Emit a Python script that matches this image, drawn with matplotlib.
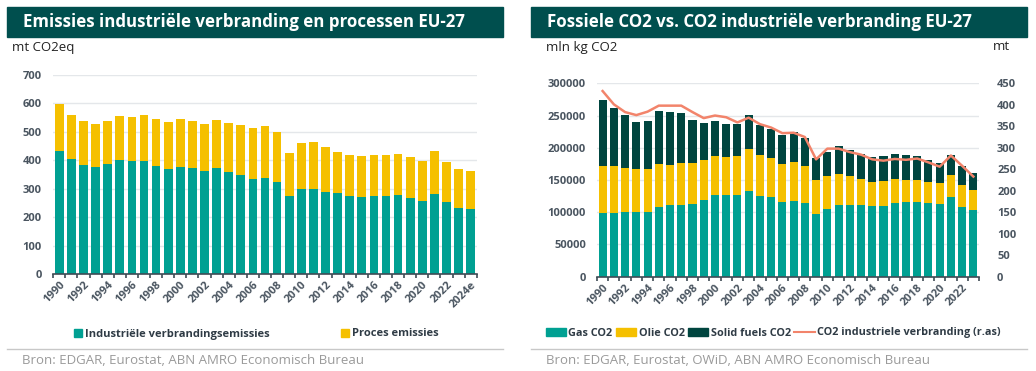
import numpy as np
import matplotlib
matplotlib.use("Agg")
import matplotlib.pyplot as plt
from matplotlib.patches import Rectangle, Patch
from matplotlib.lines import Line2D

plt.rcParams['font.family'] = ['Open Sans', 'DejaVu Sans']

# ---- data: left chart (mt CO2eq) ----
years_left = ['1990', '1991', '1992', '1993', '1994', '1995', '1996', '1997', '1998', '1999',
              '2000', '2001', '2002', '2003', '2004', '2005', '2006', '2007', '2008', '2009',
              '2010', '2011', '2012', '2013', '2014', '2015', '2016', '2017', '2018', '2019',
              '2020', '2021', '2022', '2023', '2024e']
verbranding = [431, 403, 383, 377, 386, 400, 397, 397, 381, 369,
               377, 372, 362, 372, 358, 349, 334, 337, 325, 273,
               299, 299, 289, 284, 273, 272, 275, 273, 278, 266,
               258, 281, 255, 233, 229]
totaal_left = [598, 561, 539, 526, 538, 555, 552, 558, 545, 533,
               545, 538, 526, 542, 531, 524, 512, 520, 498, 426,
               462, 464, 445, 428, 418, 414, 420, 420, 422, 411,
               399, 431, 394, 368, 362]
proces = [t - v for t, v in zip(totaal_left, verbranding)]

# ---- data: right chart (mln kg CO2, line in mt) ----
years_right = [str(y) for y in range(1990, 2024)]
gas_co2 = [98100, 98100, 99700, 100700, 100700, 107900, 110500, 110500, 113100, 118800,
           126500, 126500, 126500, 132200, 125500, 124000, 115200, 117200, 113600, 97100,
           104800, 110500, 111600, 111600, 109500, 109500, 113600, 116200, 116200, 114600,
           113100, 124000, 107900, 102800]
gas_olie = [171000, 172000, 168900, 166300, 166300, 174600, 173000, 176600, 176100, 180800,
            187500, 185900, 187000, 197800, 189000, 183900, 174600, 178200, 171500, 149800,
            155500, 159100, 155500, 151300, 147200, 148200, 151300, 149800, 150300, 147200,
            145100, 158000, 141600, 134800]
totaal_right = [273700, 261300, 251000, 240200, 241200, 256700, 255700, 253600, 243300, 238100,
                242200, 237600, 237100, 250500, 236000, 228800, 219500, 225200, 215400, 184400,
                193700, 202500, 196300, 191100, 185900, 187500, 190600, 189500, 187500, 180300,
                176600, 188500, 172000, 160600]
olie_co2 = [b - a for a, b in zip(gas_co2, gas_olie)]
solid_co2 = [c - b for b, c in zip(gas_olie, totaal_right)]
ind_verbranding = [432, 401, 383, 376, 384, 398, 398, 398, 383, 369,
                   375, 371, 359, 370, 355, 347, 334, 335, 325, 273,
                   298, 298, 290, 284, 273, 270, 274, 272, 275, 266,
                   256, 282, 258, 233]

# colours
TEAL = '#00a092'
YELLOW = '#f5c000'
DARK = '#00453f'
BAND = '#004f4e'
SALMON = '#f2846b'
TICKC = '#4a5560'
GRID = '#e4e7ea'

W, H = 1036, 371
fig = plt.figure(figsize=(W / 100, H / 100), dpi=100)


def fx(x):
    return x / W


def fy(y):
    return 1 - y / H


def style_axes(ax, n):
    for s in ['top', 'right', 'left']:
        ax.spines[s].set_visible(False)
    ax.spines['bottom'].set_color('#3f4b55')
    ax.spines['bottom'].set_linewidth(1.2)
    ax.grid(axis='y', color=GRID, linewidth=1)
    ax.set_axisbelow(True)
    ax.tick_params(axis='y', length=0, labelsize=8, labelcolor=TICKC, pad=8)
    ax.set_xticks(np.arange(0, n, 2))
    ax.set_xticks(np.arange(-0.5, n, 1), minor=True)
    ax.tick_params(axis='x', which='major', length=0, labelsize=8, labelcolor=TICKC, pad=4)
    ax.tick_params(axis='x', which='minor', length=3, width=1.2, color='#3f4b55', direction='out')
    for lab in ax.get_yticklabels():
        lab.set_fontweight('bold')


# ---- title bands / headers ----
for x0, x1, title in [(7, 503, 'Emissies industriële verbranding en processen EU-27'),
                      (531, 1027, 'Fossiele CO2 vs. CO2 industriële verbranding EU-27')]:
    fig.patches.append(Rectangle((fx(x0), fy(37)), fx(x1 - x0), 30 / H,
                                 transform=fig.transFigure, color=BAND, zorder=0))
    fig.text(fx(x0 + 16), fy(22), title, color='white', fontsize=12.2, fontweight='bold',
             va='center', ha='left')
    fig.add_artist(Line2D([fx(x0), fx(x1)], [fy(349), fy(349)], color='#c8c8c8',
                          linewidth=1, transform=fig.transFigure))

fig.text(fx(12), fy(47), 'mt CO2eq', fontsize=9.5, color='#222222', va='center')
fig.text(fx(546), fy(47), 'mln kg CO2', fontsize=9.5, color='#222222', va='center')
fig.text(fx(1010), fy(47), 'mt', fontsize=9.5, color='#222222', va='center', ha='right')
fig.text(fx(22), fy(361), 'Bron: EDGAR, Eurostat, ABN AMRO Economisch Bureau',
         fontsize=9.5, color='#9a9a9a', va='center')
fig.text(fx(546), fy(361), 'Bron: EDGAR, Eurostat, OWiD, ABN AMRO Economisch Bureau',
         fontsize=9.5, color='#9a9a9a', va='center')

# ---- left chart ----
axl = fig.add_axes([fx(53), fy(274), fx(477 - 53), (274 - 75) / H])
xl = np.arange(len(years_left))
axl.bar(xl, verbranding, width=0.72, color=TEAL, label='Industriële verbrandingsemissies')
axl.bar(xl, proces, width=0.72, bottom=verbranding, color=YELLOW, label='Proces emissies')
axl.set_ylim(0, 700)
axl.set_yticks(range(0, 701, 100))
axl.set_xlim(-0.52, len(years_left) - 0.48)
style_axes(axl, len(years_left))
axl.set_xticklabels(years_left[::2], rotation=45, ha='right', rotation_mode='anchor',
                    fontweight='bold')

leg_l = fig.legend(handles=[Patch(color=TEAL, label='Industriële verbrandingsemissies'),
                            Patch(color=YELLOW, label='Proces emissies')],
                   loc='center left', bbox_to_anchor=(fx(64), fy(334)), ncol=2,
                   frameon=False, handlelength=0.75, handleheight=0.75, handletextpad=0.25,
                   columnspacing=6.4, prop={'size': 8, 'weight': 'bold'})
for t in leg_l.get_texts():
    t.set_color('#2f3b45')

# ---- right chart ----
axr = fig.add_axes([fx(597), fy(276.7), fx(979 - 597), (276.7 - 83.3) / H])
xr = np.arange(len(years_right))
axr.bar(xr, gas_co2, width=0.72, color=TEAL)
axr.bar(xr, olie_co2, width=0.72, bottom=gas_co2, color=YELLOW)
axr.bar(xr, solid_co2, width=0.72, bottom=gas_olie, color=DARK)
axr.set_ylim(0, 300000)
axr.set_yticks(range(0, 300001, 50000))
axr.set_xlim(-0.5, len(years_right) - 0.5)
style_axes(axr, len(years_right))
axr.set_xticklabels(years_right[::2], rotation=45, ha='right', rotation_mode='anchor',
                    fontweight='bold')

ax2 = axr.twinx()
ax2.plot(xr, ind_verbranding, color=SALMON, linewidth=1.8)
ax2.set_ylim(0, 450)
ax2.set_yticks(range(0, 451, 50))
for s in ['top', 'right', 'left', 'bottom']:
    ax2.spines[s].set_visible(False)
ax2.tick_params(axis='y', length=0, labelsize=8, labelcolor=TICKC, pad=13)
for lab in ax2.get_yticklabels():
    lab.set_fontweight('bold')

leg_r = fig.legend(handles=[Patch(color=TEAL, label='Gas CO2'),
                            Patch(color=YELLOW, label='Olie CO2'),
                            Patch(color=DARK, label='Solid fuels CO2'),
                            Line2D([], [], color=SALMON, linewidth=1.5,
                                   label='CO2 industriele verbranding (r.as)')],
                   loc='center left', bbox_to_anchor=(fx(536), fy(333)), ncol=4,
                   frameon=False, handlelength=1.9, handleheight=0.7, handletextpad=0.2,
                   columnspacing=0.3, prop={'size': 7.8, 'weight': 'bold'})
for t in leg_r.get_texts():
    t.set_color('#2f3b45')

fig.savefig('out.png', dpi=100)
